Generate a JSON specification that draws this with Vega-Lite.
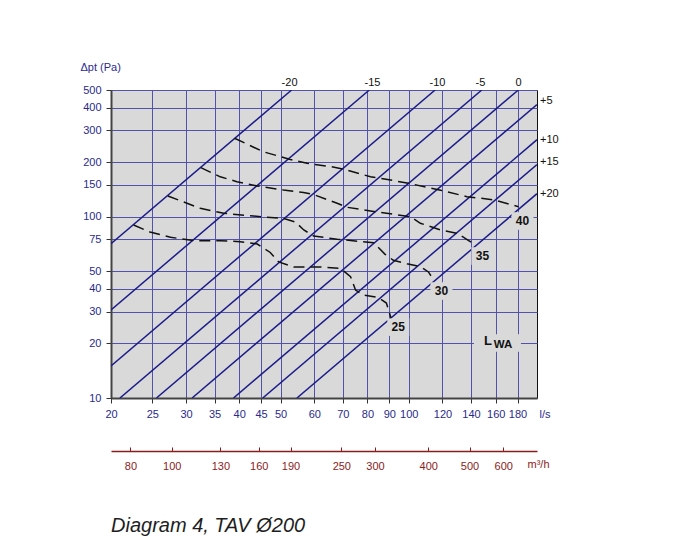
{
  "$schema": "https://vega.github.io/schema/vega-lite/v6.json",
  "width": 426,
  "height": 308,
  "autosize": "none",
  "padding": {"left": 111, "top": 90, "right": 142, "bottom": 162},
  "background": "white",
  "config": {
    "font": "Liberation Sans",
    "view": {"fill": "#d9d9d9", "stroke": "#111111", "strokeWidth": 1},
    "axis": {"labelFont": "Liberation Sans", "titleFont": "Liberation Sans", "labelFontSize": 11, "titleFontSize": 11, "titleFontWeight": "normal"}
  },
  "title": {"text": "Diagram 4, TAV Ø200", "orient": "bottom", "anchor": "start", "frame": "group", "font": "Liberation Sans", "fontStyle": "italic", "fontWeight": "normal", "fontSize": 20, "color": "#1e1e1e", "offset": 45},
  "datasets": {
    "lines": [
      {"id": "A", "q": 20, "dp": 71.0}, {"id": "A", "q": 53.1, "dp": 500},
      {"id": "B", "q": 20, "dp": 30.6}, {"id": "B", "q": 80.8, "dp": 500},
      {"id": "C", "q": 20, "dp": 15.04}, {"id": "C", "q": 115.3, "dp": 500},
      {"id": "D", "q": 20.99, "dp": 10}, {"id": "D", "q": 148.4, "dp": 500},
      {"id": "E", "q": 25.57, "dp": 10}, {"id": "E", "q": 180.8, "dp": 500},
      {"id": "F", "q": 31.0, "dp": 10}, {"id": "F", "q": 200, "dp": 416},
      {"id": "G", "q": 38.78, "dp": 10}, {"id": "G", "q": 200, "dp": 266},
      {"id": "H", "q": 45.41, "dp": 10}, {"id": "H", "q": 200, "dp": 194},
      {"id": "I", "q": 54.64, "dp": 10}, {"id": "I", "q": 200, "dp": 134}
    ],
    "curves": [
      {"lwa": 40, "i": 1, "q": 39.0, "dp": 271}, {"lwa": 40, "i": 2, "q": 45.6, "dp": 228}, {"lwa": 40, "i": 3, "q": 52.7, "dp": 207}, {"lwa": 40, "i": 4, "q": 57.7, "dp": 197}, {"lwa": 40, "i": 5, "q": 65.5, "dp": 189}, {"lwa": 40, "i": 6, "q": 70.4, "dp": 183}, {"lwa": 40, "i": 7, "q": 81.3, "dp": 166}, {"lwa": 40, "i": 8, "q": 85.8, "dp": 163}, {"lwa": 40, "i": 9, "q": 99.8, "dp": 153}, {"lwa": 40, "i": 10, "q": 118.7, "dp": 140}, {"lwa": 40, "i": 11, "q": 137, "dp": 129}, {"lwa": 40, "i": 12, "q": 158, "dp": 124}, {"lwa": 40, "i": 13, "q": 181, "dp": 113.6},
      {"lwa": 35, "i": 1, "q": 32.5, "dp": 186.4}, {"lwa": 35, "i": 2, "q": 36.1, "dp": 166}, {"lwa": 35, "i": 3, "q": 39.5, "dp": 156}, {"lwa": 35, "i": 4, "q": 44.1, "dp": 147.7}, {"lwa": 35, "i": 5, "q": 50.8, "dp": 140.4}, {"lwa": 35, "i": 6, "q": 56.6, "dp": 136}, {"lwa": 35, "i": 7, "q": 59.7, "dp": 132.6}, {"lwa": 35, "i": 8, "q": 67.9, "dp": 118.6}, {"lwa": 35, "i": 9, "q": 71.7, "dp": 112.7}, {"lwa": 35, "i": 10, "q": 81.3, "dp": 107.6}, {"lwa": 35, "i": 11, "q": 100.9, "dp": 100}, {"lwa": 35, "i": 12, "q": 106.5, "dp": 92}, {"lwa": 35, "i": 13, "q": 118.7, "dp": 84.5}, {"lwa": 35, "i": 14, "q": 129.9, "dp": 81}, {"lwa": 35, "i": 15, "q": 142, "dp": 71},
      {"lwa": 30, "i": 1, "q": 27.2, "dp": 130.1}, {"lwa": 30, "i": 2, "q": 32.4, "dp": 111.3}, {"lwa": 30, "i": 3, "q": 36.8, "dp": 104.4}, {"lwa": 30, "i": 4, "q": 43.2, "dp": 100.9}, {"lwa": 30, "i": 5, "q": 50.9, "dp": 97.7}, {"lwa": 30, "i": 6, "q": 54.2, "dp": 93.5}, {"lwa": 30, "i": 7, "q": 56.7, "dp": 84.5}, {"lwa": 30, "i": 8, "q": 59.8, "dp": 78.3}, {"lwa": 30, "i": 9, "q": 67.9, "dp": 75.1}, {"lwa": 30, "i": 10, "q": 82.7, "dp": 71.9}, {"lwa": 30, "i": 11, "q": 88, "dp": 62}, {"lwa": 30, "i": 12, "q": 92, "dp": 57.5}, {"lwa": 30, "i": 13, "q": 99, "dp": 55}, {"lwa": 30, "i": 14, "q": 106.5, "dp": 53}, {"lwa": 30, "i": 15, "q": 111.2, "dp": 49.6}, {"lwa": 30, "i": 16, "q": 114.5, "dp": 44.7},
      {"lwa": 25, "i": 1, "q": 22.6, "dp": 90}, {"lwa": 25, "i": 2, "q": 24.7, "dp": 82.3}, {"lwa": 25, "i": 3, "q": 27.6, "dp": 77}, {"lwa": 25, "i": 4, "q": 31.3, "dp": 73.8}, {"lwa": 25, "i": 5, "q": 36.1, "dp": 73.8}, {"lwa": 25, "i": 6, "q": 40.2, "dp": 72.8}, {"lwa": 25, "i": 7, "q": 44.1, "dp": 70.7}, {"lwa": 25, "i": 8, "q": 47.3, "dp": 63.5}, {"lwa": 25, "i": 9, "q": 49.5, "dp": 56.3}, {"lwa": 25, "i": 10, "q": 53.7, "dp": 52.8}, {"lwa": 25, "i": 11, "q": 62, "dp": 52.8}, {"lwa": 25, "i": 12, "q": 69.1, "dp": 51.9}, {"lwa": 25, "i": 13, "q": 73, "dp": 46.7}, {"lwa": 25, "i": 14, "q": 75, "dp": 39.4}, {"lwa": 25, "i": 15, "q": 78.3, "dp": 37}, {"lwa": 25, "i": 16, "q": 84.9, "dp": 35.8}, {"lwa": 25, "i": 17, "q": 88.6, "dp": 33.4}, {"lwa": 25, "i": 18, "q": 90.9, "dp": 27.5}
    ],
    "curveLabels": [
      {"t": "40", "q": 184.9, "dp": 94.7},
      {"t": "35", "q": 148.9, "dp": 60.7},
      {"t": "30", "q": 119.3, "dp": 38.9},
      {"t": "25", "q": 94.5, "dp": 24.6}
    ],
    "lwaBox": [{"q": 161.5, "dp": 20.1}],
    "lwaL": [{"t": "L", "q": 153.4, "dp": 20.6}],
    "lwaWA": [{"t": "WA", "q": 166.4, "dp": 19.6}],
    "topLabels": [
      {"t": "-20", "q": 52.5}, {"t": "-15", "q": 82.2}, {"t": "-10", "q": 116.8}, {"t": "-5", "q": 147.3}, {"t": "0", "q": 181}
    ],
    "rightLabels": [
      {"t": "+5", "dp": 434}, {"t": "+10", "dp": 265}, {"t": "+15", "dp": 200}, {"t": "+20", "dp": 134}
    ],
    "m3h": [{"m": 80}, {"m": 100}, {"m": 130}, {"m": 160}, {"m": 190}, {"m": 250}, {"m": 300}, {"m": 400}, {"m": 500}, {"m": 600}]
  },
  "resolve": {"scale": {"x": "independent"}},
  "layer": [
    {
      "layer": [
        {
          "data": {"name": "lines"},
          "mark": {"type": "line", "color": "#1b1b8a", "strokeWidth": 1.5, "clip": true},
          "encoding": {
            "x": {"field": "q", "type": "quantitative", "scale": {"type": "log", "domain": [20, 200], "nice": false},
              "axis": {"values": [20, 25, 30, 35, 40, 45, 50, 60, 70, 80, 90, 100, 120, 140, 160, 180], "format": "d", "grid": true, "gridColor": "#5252a8", "gridWidth": 1, "labelColor": "#2a2a8c", "tickColor": "#333333", "tickSize": 5, "labelPadding": 5, "domainColor": "#444444", "domainWidth": 2, "labelOverlap": false, "labelFlush": false, "title": "l/s", "titleX": 428, "titleY": 16, "titleAlign": "left", "titleBaseline": "middle", "titleColor": "#2a2a8c"}},
            "y": {"field": "dp", "type": "quantitative", "scale": {"type": "log", "domain": [10, 500], "nice": false},
              "axis": {"values": [10, 20, 30, 40, 50, 75, 100, 150, 200, 300, 400, 500], "format": "d", "grid": true, "gridColor": "#5252a8", "gridWidth": 1, "labelColor": "#2a2a8c", "tickColor": "#333333", "tickSize": 5, "labelPadding": 5, "domainColor": "#444444", "domainWidth": 2, "labelOverlap": false, "labelFlush": false, "title": "Δpt (Pa)", "titleAngle": 0, "titleX": -31, "titleY": -23, "titleAlign": "left", "titleBaseline": "middle", "titleColor": "#2a2a8c"}},
            "detail": {"field": "id"}
          }
        },
        {
          "data": {"name": "curves"},
          "mark": {"type": "line", "color": "#111111", "strokeWidth": 1.5, "strokeDash": [11, 6]},
          "encoding": {
            "x": {"field": "q", "type": "quantitative"},
            "y": {"field": "dp", "type": "quantitative"},
            "detail": {"field": "lwa"},
            "order": {"field": "i"}
          }
        },
        {
          "data": {"name": "curveLabels"},
          "mark": {"type": "point", "shape": "M-1,-0.8H1V0.8H-1Z", "filled": true, "color": "#d9d9d9", "opacity": 1, "size": 484},
          "encoding": {
            "x": {"field": "q", "type": "quantitative"},
            "y": {"field": "dp", "type": "quantitative"}
          }
        },
        {
          "data": {"name": "curveLabels"},
          "mark": {"type": "text", "fontWeight": "bold", "fontSize": 12, "color": "#111111", "baseline": "middle", "align": "center"},
          "encoding": {
            "x": {"field": "q", "type": "quantitative"},
            "y": {"field": "dp", "type": "quantitative"},
            "text": {"field": "t"}
          }
        },
        {
          "data": {"name": "lwaBox"},
          "mark": {"type": "point", "shape": "M-1,-0.37H1V0.37H-1Z", "filled": true, "color": "#d9d9d9", "opacity": 1, "size": 2209},
          "encoding": {
            "x": {"field": "q", "type": "quantitative"},
            "y": {"field": "dp", "type": "quantitative"}
          }
        },
        {
          "data": {"name": "lwaL"},
          "mark": {"type": "text", "fontWeight": "bold", "fontSize": 13, "color": "#111111", "baseline": "middle", "align": "center"},
          "encoding": {
            "x": {"field": "q", "type": "quantitative"},
            "y": {"field": "dp", "type": "quantitative"},
            "text": {"field": "t"}
          }
        },
        {
          "data": {"name": "lwaWA"},
          "mark": {"type": "text", "fontWeight": "bold", "fontSize": 11.5, "color": "#111111", "baseline": "middle", "align": "center"},
          "encoding": {
            "x": {"field": "q", "type": "quantitative"},
            "y": {"field": "dp", "type": "quantitative"},
            "text": {"field": "t"}
          }
        },
        {
          "data": {"name": "topLabels"},
          "mark": {"type": "text", "fontSize": 11, "color": "#111111", "baseline": "bottom", "align": "center", "dy": -2},
          "encoding": {
            "x": {"field": "q", "type": "quantitative"},
            "y": {"datum": 500, "type": "quantitative"},
            "text": {"field": "t"}
          }
        },
        {
          "data": {"name": "rightLabels"},
          "mark": {"type": "text", "fontSize": 11, "color": "#111111", "baseline": "middle", "align": "left", "dx": 3},
          "encoding": {
            "x": {"datum": 200, "type": "quantitative"},
            "y": {"field": "dp", "type": "quantitative"},
            "text": {"field": "t"}
          }
        }
      ]
    },
    {
      "data": {"name": "m3h"},
      "mark": {"type": "point", "opacity": 0},
      "encoding": {
        "x": {"field": "m", "type": "quantitative", "scale": {"type": "log", "domain": [72, 720], "nice": false},
          "axis": {"orient": "bottom", "offset": 53, "values": [80, 100, 130, 160, 190, 250, 300, 400, 500, 600], "format": "d", "grid": false, "domainColor": "#8b1c1c", "domainWidth": 1.5, "tickColor": "#8b1c1c", "tickSize": -4, "labelPadding": 13, "labelColor": "#8b1c1c", "labelOverlap": false, "labelFlush": false, "title": "m³/h", "titleX": 416, "titleY": 13, "titleAlign": "left", "titleBaseline": "middle", "titleColor": "#8b1c1c"}}
      }
    }
  ]
}
